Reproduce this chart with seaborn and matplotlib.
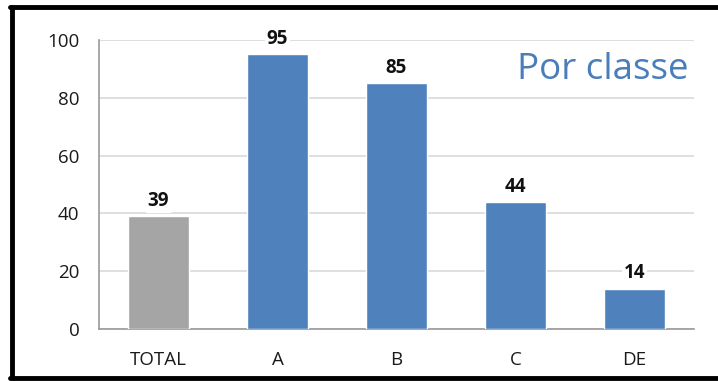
import matplotlib
matplotlib.use("Agg")
import matplotlib.pyplot as plt
import seaborn as sns
import pandas as pd
from matplotlib.lines import Line2D

# values
categories = ["TOTAL", "A", "B", "C", "DE"]
values = [39, 95, 85, 44, 14]
bar_colors = ["#A5A5A5", "#4F81BD", "#4F81BD", "#4F81BD", "#4F81BD"]
y_ticks = [0, 20, 40, 60, 80, 100]

df = pd.DataFrame({"classe": categories, "valor": values})

sns.set_style("white")
plt.rcParams["font.family"] = ["Open Sans", "DejaVu Sans"]

fig = plt.figure(figsize=(7.18, 3.81), dpi=100)
ax = fig.add_axes([0.1379, 0.1365, 0.8287, 0.7585])

sns.barplot(data=df, x="classe", y="valor", hue="classe",
            palette=dict(zip(categories, bar_colors)), legend=False,
            width=0.52, saturation=1, ax=ax, zorder=3)

ax.set_ylim(0, 100)
ax.set_xlim(-0.5, len(categories) - 0.5)
ax.set_yticks(y_ticks)
ax.yaxis.grid(True, color="#D9D9D9", linewidth=1.2, zorder=0)
ax.set_axisbelow(True)

for s in ["top", "right"]:
    ax.spines[s].set_visible(False)
for s in ["left", "bottom"]:
    ax.spines[s].set_color("#9A9A9A")
    ax.spines[s].set_linewidth(1.2)

ax.set_xlabel("")
ax.set_ylabel("")
ax.tick_params(axis="y", length=8, width=1.2, color="#9A9A9A",
               labelsize=13.5, labelcolor="#1A1A1A", pad=6)
ax.tick_params(axis="x", length=0, labelsize=13.5, labelcolor="#1A1A1A", pad=16)
# category boundary ticks on the x axis
ax.set_xticks([i - 0.5 for i in range(len(categories) + 1)], minor=True)
ax.tick_params(axis="x", which="minor", length=7, width=1.2, color="#9A9A9A")

for i, v in enumerate(values):
    ax.text(i, v + 1.8, str(v), ha="center", va="bottom", fontsize=13.5,
            fontweight="bold", color="#111111", zorder=4,
            bbox=dict(facecolor="white", edgecolor="none", pad=1.5))

ax.text(0.99, 0.895, "Por classe", transform=ax.transAxes, ha="right",
        va="center", fontsize=26.5, color="#4A7EBB", zorder=4,
        bbox=dict(facecolor="white", edgecolor="none", pad=2))

# frame around the picture (left, top, bottom)
fig.add_artist(Line2D([11.5 / 718, 11.5 / 718], [1 - 7 / 381, 1 - 377 / 381],
                      color="black", linewidth=3.5, transform=fig.transFigure))
fig.add_artist(Line2D([10 / 718, 1], [1 - 7 / 381, 1 - 7 / 381],
                      color="black", linewidth=3.5, transform=fig.transFigure))
fig.add_artist(Line2D([10 / 718, 1], [1 - 378 / 381, 1 - 378 / 381],
                      color="black", linewidth=3.5, transform=fig.transFigure))

fig.savefig("out.png", dpi=100)
